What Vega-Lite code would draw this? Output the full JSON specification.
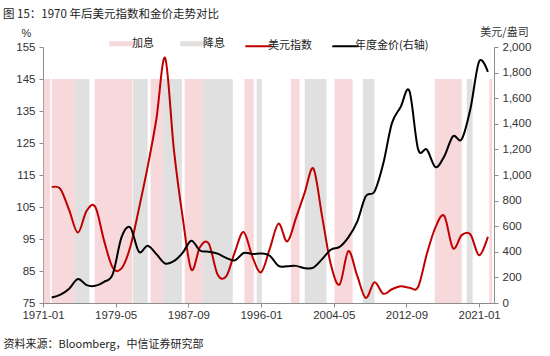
{
  "$schema": "https://vega.github.io/schema/vega-lite/v6.json",
  "width": 451,
  "height": 256,
  "autosize": {"type": "none"},
  "padding": {"left": 43, "top": 47, "right": 56, "bottom": 53},
  "background": "white",
  "title": {"text": "图 15：1970 年后美元指数和金价走势对比", "anchor": "start", "frame": "group", "dx": -40, "orient": "top", "offset": 6, "font": "Noto Sans CJK SC", "fontSize": 11.5, "fontWeight": "normal", "color": "#222222"},
  "config": {"view": {"stroke": null}, "axis": {"grid": false, "domainColor": "#8c8c8c", "tickColor": "#8c8c8c", "labelColor": "#333333", "labelFont": "Liberation Sans", "labelFontSize": 11.5, "tickSize": 4}},
  "datasets": {
    "periods": [
      {"type": "加息", "date": "1971-02-01", "end": "1971-11-01"},
      {"type": "加息", "date": "1972-01-01", "end": "1974-09-01"},
      {"type": "降息", "date": "1974-09-01", "end": "1976-05-01"},
      {"type": "加息", "date": "1976-12-01", "end": "1981-04-01"},
      {"type": "降息", "date": "1981-05-01", "end": "1983-01-01"},
      {"type": "加息", "date": "1983-05-01", "end": "1984-10-01"},
      {"type": "降息", "date": "1984-10-01", "end": "1986-12-01"},
      {"type": "加息", "date": "1987-04-01", "end": "1989-05-01"},
      {"type": "降息", "date": "1989-05-01", "end": "1992-10-01"},
      {"type": "加息", "date": "1994-02-01", "end": "1995-03-01"},
      {"type": "降息", "date": "1995-07-01", "end": "1996-02-01"},
      {"type": "加息", "date": "1999-06-01", "end": "2000-06-01"},
      {"type": "降息", "date": "2001-01-01", "end": "2003-07-01"},
      {"type": "加息", "date": "2004-06-01", "end": "2006-07-01"},
      {"type": "降息", "date": "2007-09-01", "end": "2009-01-01"},
      {"type": "加息", "date": "2015-12-01", "end": "2019-01-01"},
      {"type": "降息", "date": "2019-08-01", "end": "2020-04-01"},
      {"type": "加息", "date": "2022-03-01", "end": "2022-07-01"}
    ],
    "dxy": [
      {"date": "1972-01-01", "value": 111.2},
      {"date": "1973-01-01", "value": 110.6},
      {"date": "1974-01-01", "value": 104.0},
      {"date": "1975-01-01", "value": 97.0},
      {"date": "1976-01-01", "value": 103.8},
      {"date": "1977-01-01", "value": 105.0},
      {"date": "1978-01-01", "value": 94.5},
      {"date": "1979-01-01", "value": 86.0},
      {"date": "1980-01-01", "value": 85.8},
      {"date": "1981-01-01", "value": 92.5},
      {"date": "1982-01-01", "value": 104.5},
      {"date": "1983-01-01", "value": 117.6},
      {"date": "1984-01-01", "value": 132.5},
      {"date": "1985-01-01", "value": 151.6},
      {"date": "1986-01-01", "value": 123.0},
      {"date": "1987-01-01", "value": 102.0},
      {"date": "1988-01-01", "value": 85.5},
      {"date": "1989-01-01", "value": 92.5},
      {"date": "1990-01-01", "value": 93.6},
      {"date": "1991-01-01", "value": 84.0},
      {"date": "1992-01-01", "value": 83.3},
      {"date": "1993-01-01", "value": 91.0},
      {"date": "1994-01-01", "value": 97.2},
      {"date": "1995-01-01", "value": 89.5},
      {"date": "1996-01-01", "value": 84.6},
      {"date": "1997-01-01", "value": 92.0},
      {"date": "1998-01-01", "value": 99.8},
      {"date": "1999-01-01", "value": 94.2},
      {"date": "2000-01-01", "value": 101.5},
      {"date": "2001-01-01", "value": 109.5},
      {"date": "2002-01-01", "value": 117.0},
      {"date": "2003-01-01", "value": 102.0},
      {"date": "2004-01-01", "value": 87.0},
      {"date": "2005-01-01", "value": 80.8},
      {"date": "2006-01-01", "value": 91.2},
      {"date": "2007-01-01", "value": 83.7},
      {"date": "2008-01-01", "value": 76.6},
      {"date": "2009-01-01", "value": 81.5},
      {"date": "2010-01-01", "value": 77.9},
      {"date": "2011-01-01", "value": 79.3},
      {"date": "2012-01-01", "value": 80.2},
      {"date": "2013-01-01", "value": 79.8},
      {"date": "2014-01-01", "value": 80.0},
      {"date": "2015-01-01", "value": 90.3},
      {"date": "2016-01-01", "value": 98.7},
      {"date": "2017-01-01", "value": 102.2},
      {"date": "2018-01-01", "value": 92.1},
      {"date": "2019-01-01", "value": 96.2},
      {"date": "2020-01-01", "value": 96.4},
      {"date": "2021-01-01", "value": 89.9},
      {"date": "2022-01-01", "value": 95.7}
    ],
    "gold": [
      {"date": "1972-01-01", "price": 43},
      {"date": "1973-01-01", "price": 65},
      {"date": "1974-01-01", "price": 112},
      {"date": "1975-01-01", "price": 187},
      {"date": "1976-01-01", "price": 140},
      {"date": "1977-01-01", "price": 134},
      {"date": "1978-01-01", "price": 165},
      {"date": "1979-01-01", "price": 226},
      {"date": "1980-01-01", "price": 512},
      {"date": "1981-01-01", "price": 590},
      {"date": "1982-01-01", "price": 400},
      {"date": "1983-01-01", "price": 448},
      {"date": "1984-01-01", "price": 382},
      {"date": "1985-01-01", "price": 309},
      {"date": "1986-01-01", "price": 327},
      {"date": "1987-01-01", "price": 391},
      {"date": "1988-01-01", "price": 487},
      {"date": "1989-01-01", "price": 410},
      {"date": "1990-01-01", "price": 401},
      {"date": "1991-01-01", "price": 386},
      {"date": "1992-01-01", "price": 353},
      {"date": "1993-01-01", "price": 333},
      {"date": "1994-01-01", "price": 391},
      {"date": "1995-01-01", "price": 383},
      {"date": "1996-01-01", "price": 387},
      {"date": "1997-01-01", "price": 369},
      {"date": "1998-01-01", "price": 290},
      {"date": "1999-01-01", "price": 288},
      {"date": "2000-01-01", "price": 290},
      {"date": "2001-01-01", "price": 272},
      {"date": "2002-01-01", "price": 277},
      {"date": "2003-01-01", "price": 343},
      {"date": "2004-01-01", "price": 416},
      {"date": "2005-01-01", "price": 438},
      {"date": "2006-01-01", "price": 513},
      {"date": "2007-01-01", "price": 632},
      {"date": "2008-01-01", "price": 834},
      {"date": "2009-01-01", "price": 870},
      {"date": "2010-01-01", "price": 1087},
      {"date": "2011-01-01", "price": 1405},
      {"date": "2012-01-01", "price": 1531},
      {"date": "2013-01-01", "price": 1657},
      {"date": "2014-01-01", "price": 1202},
      {"date": "2015-01-01", "price": 1199},
      {"date": "2016-01-01", "price": 1061},
      {"date": "2017-01-01", "price": 1146},
      {"date": "2018-01-01", "price": 1303},
      {"date": "2019-01-01", "price": 1279},
      {"date": "2020-01-01", "price": 1517},
      {"date": "2021-01-01", "price": 1888},
      {"date": "2022-01-01", "price": 1806}
    ]
  },
  "encoding": {
    "x": {
      "field": "date",
      "type": "temporal",
      "scale": {"type": "utc", "domain": [{"year": 1971, "month": 1, "date": 1, "utc": true}, {"year": 2022, "month": 9, "date": 14, "utc": true}]},
      "axis": {
        "values": [
          {"year": 1971, "month": 1, "date": 1, "utc": true},
          {"year": 1979, "month": 5, "date": 1, "utc": true},
          {"year": 1987, "month": 9, "date": 1, "utc": true},
          {"year": 1996, "month": 1, "date": 1, "utc": true},
          {"year": 2004, "month": 5, "date": 1, "utc": true},
          {"year": 2012, "month": 9, "date": 1, "utc": true},
          {"year": 2021, "month": 1, "date": 1, "utc": true}
        ],
        "format": "%Y-%m",
        "labelFlush": false,
        "labelOverlap": false,
        "labelPadding": 2,
        "title": "资料来源：Bloomberg，中信证券研究部",
        "titleAnchor": "start",
        "titleAlign": "left",
        "titleBaseline": "middle",
        "titleX": -40,
        "titleY": 41,
        "titleFont": "Noto Sans CJK SC",
        "titleFontSize": 11,
        "titleFontWeight": "normal",
        "titleColor": "#222222"
      }
    }
  },
  "layer": [
    {
      "layer": [
        {
          "data": {"name": "periods"},
          "mark": {"type": "rect"},
          "encoding": {
            "x2": {"field": "end"},
            "y": {"datum": 145, "type": "quantitative", "scale": {"domain": [75, 155]},
              "axis": {"title": "%", "titleAngle": 0, "titleX": -17, "titleY": -14, "titleAlign": "center", "titleBaseline": "middle", "titleFont": "Liberation Sans", "titleFontSize": 11, "titleFontWeight": "normal", "titleColor": "#333333", "values": [75, 85, 95, 105, 115, 125, 135, 145, 155], "labelPadding": 4}},
            "y2": {"datum": 75},
            "color": {"field": "type", "type": "nominal",
              "scale": {"domain": ["加息", "降息", "美元指数", "年度金价(右轴)"], "range": ["#f7d9dc", "#e0e0e0", "#c00000", "#000000"]},
              "legend": {"orient": "none", "legendX": 74, "legendY": -9, "direction": "horizontal", "title": null, "padding": 0, "labelFont": "Noto Sans CJK SC", "labelFontSize": 11, "labelColor": "#222222", "symbolType": "stroke", "symbolSize": 700, "symbolStrokeWidth": 2, "labelOffset": 4, "columnPadding": 16,
                "encode": {"symbols": {"update": {"strokeWidth": {"signal": "datum.value === '加息' || datum.value === '降息' ? 5 : 2"}, "stroke": {"signal": "datum.value === '加息' ? '#f2c4c9' : datum.value === '降息' ? '#d4d4d4' : scale('color', datum.value)"}, "opacity": {"value": 1}}}}}}
          }
        },
        {
          "data": {"name": "dxy"},
          "mark": {"type": "line", "interpolate": "cardinal", "strokeWidth": 2},
          "encoding": {
            "y": {"field": "value", "type": "quantitative", "scale": {"domain": [75, 155]},
              "axis": {"title": "%", "titleAngle": 0, "titleX": -17, "titleY": -14, "titleAlign": "center", "titleBaseline": "middle", "titleFont": "Liberation Sans", "titleFontSize": 11, "titleFontWeight": "normal", "titleColor": "#333333", "values": [75, 85, 95, 105, 115, 125, 135, 145, 155], "labelPadding": 4}},
            "color": {"datum": "美元指数", "type": "nominal",
              "scale": {"domain": ["加息", "降息", "美元指数", "年度金价(右轴)"], "range": ["#f7d9dc", "#e0e0e0", "#c00000", "#000000"]},
              "legend": {"orient": "none", "legendX": 74, "legendY": -9, "direction": "horizontal", "title": null, "padding": 0, "labelFont": "Noto Sans CJK SC", "labelFontSize": 11, "labelColor": "#222222", "symbolType": "stroke", "symbolSize": 700, "symbolStrokeWidth": 2, "labelOffset": 4, "columnPadding": 16,
                "encode": {"symbols": {"update": {"strokeWidth": {"signal": "datum.value === '加息' || datum.value === '降息' ? 5 : 2"}, "stroke": {"signal": "datum.value === '加息' ? '#f2c4c9' : datum.value === '降息' ? '#d4d4d4' : scale('color', datum.value)"}, "opacity": {"value": 1}}}}}}
          }
        }
      ]
    },
    {
      "data": {"name": "gold"},
      "mark": {"type": "line", "interpolate": "cardinal", "strokeWidth": 2},
      "encoding": {
        "y": {"field": "price", "type": "quantitative", "scale": {"domain": [0, 2000]},
          "axis": {"orient": "right", "title": "美元/盎司", "titleAngle": 0, "titleX": 10, "titleY": -15, "titleAlign": "center", "titleBaseline": "middle", "titleFont": "Noto Sans CJK SC", "titleFontSize": 11, "titleFontWeight": "normal", "titleColor": "#333333", "values": [0, 200, 400, 600, 800, 1000, 1200, 1400, 1600, 1800, 2000], "format": ",.0f", "labelPadding": 4}},
        "color": {"datum": "年度金价(右轴)", "type": "nominal",
          "scale": {"domain": ["加息", "降息", "美元指数", "年度金价(右轴)"], "range": ["#f7d9dc", "#e0e0e0", "#c00000", "#000000"]},
          "legend": {"orient": "none", "legendX": 74, "legendY": -9, "direction": "horizontal", "title": null, "padding": 0, "labelFont": "Noto Sans CJK SC", "labelFontSize": 11, "labelColor": "#222222", "symbolType": "stroke", "symbolSize": 700, "symbolStrokeWidth": 2, "labelOffset": 4, "columnPadding": 16,
            "encode": {"symbols": {"update": {"strokeWidth": {"signal": "datum.value === '加息' || datum.value === '降息' ? 5 : 2"}, "stroke": {"signal": "datum.value === '加息' ? '#f2c4c9' : datum.value === '降息' ? '#d4d4d4' : scale('color', datum.value)"}, "opacity": {"value": 1}}}}}}
      }
    }
  ],
  "resolve": {"scale": {"y": "independent"}}
}
